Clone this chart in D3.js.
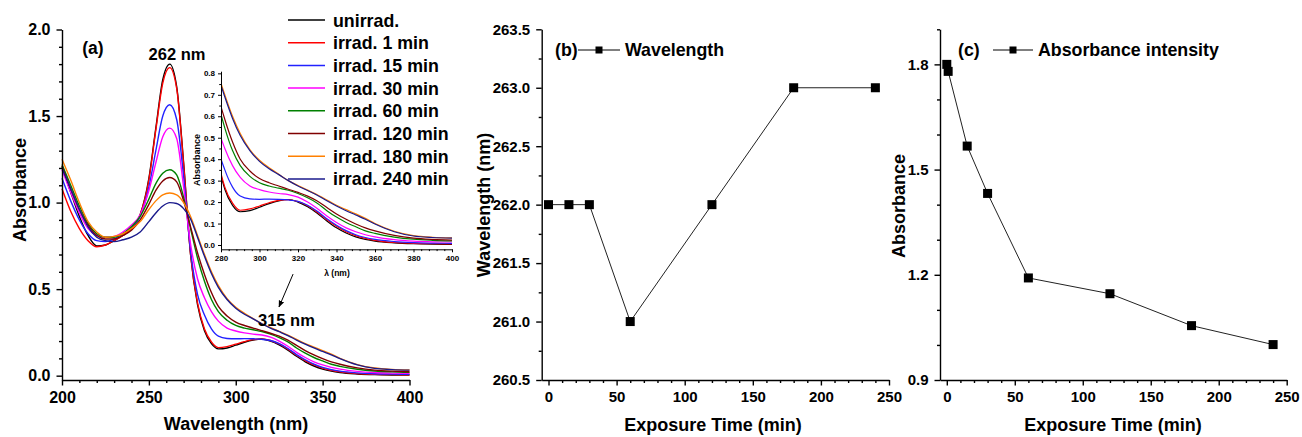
<!DOCTYPE html>
<html>
<head>
<meta charset="utf-8">
<script src="https://cdn.jsdelivr.net/npm/d3@7"></script>
<style>
  body { margin: 0; background: #fff; }
  svg text { font-family: "Liberation Sans", Arial, sans-serif; font-weight: bold; fill: #000; }
</style>
</head>
<body>
<svg id="chart" width="1302" height="437"></svg>
<script>
// ---- data ----
var wavelengths = [200,205,210,215,220,225,230,235,240,245,250,254,258,262,266,270,274,278,282,286,290,295,300,305,310,315,320,325,330,335,340,345,350,355,360,370,380,390,400]

var unirrad  = [1.21,1.06,0.92,0.81,0.75,0.755,0.78,0.81,0.85,0.93,1.14,1.43,1.71,1.80,1.67,1.23,0.70,0.41,0.26,0.185,0.155,0.16,0.176,0.193,0.206,0.212,0.200,0.178,0.148,0.112,0.080,0.056,0.038,0.026,0.018,0.010,0.006,0.004,0.003]
var irrad1   = [1.08,0.95,0.85,0.78,0.745,0.755,0.78,0.81,0.85,0.93,1.13,1.42,1.69,1.78,1.66,1.22,0.70,0.42,0.27,0.195,0.162,0.168,0.182,0.197,0.208,0.211,0.203,0.183,0.153,0.118,0.087,0.062,0.044,0.031,0.022,0.012,0.008,0.006,0.005]
var irrad15  = [1.14,1.01,0.90,0.82,0.78,0.775,0.79,0.82,0.86,0.92,1.09,1.30,1.50,1.565,1.48,1.15,0.72,0.47,0.35,0.27,0.228,0.215,0.213,0.214,0.213,0.210,0.203,0.185,0.157,0.122,0.092,0.067,0.048,0.035,0.026,0.016,0.011,0.009,0.008]
var irrad30  = [1.19,1.06,0.94,0.85,0.81,0.80,0.805,0.83,0.87,0.93,1.07,1.23,1.38,1.43,1.37,1.09,0.76,0.56,0.45,0.37,0.315,0.275,0.258,0.247,0.240,0.235,0.223,0.200,0.170,0.135,0.105,0.080,0.062,0.048,0.038,0.025,0.018,0.015,0.014]
var irrad60  = [1.22,1.10,0.98,0.88,0.82,0.80,0.80,0.82,0.86,0.92,1.02,1.11,1.17,1.19,1.16,1.03,0.85,0.68,0.545,0.44,0.37,0.32,0.29,0.275,0.265,0.255,0.240,0.220,0.195,0.160,0.130,0.105,0.085,0.066,0.054,0.037,0.027,0.022,0.019]
var irrad120 = [1.21,1.08,0.96,0.87,0.81,0.79,0.79,0.81,0.84,0.90,0.99,1.07,1.125,1.145,1.12,1.01,0.86,0.71,0.585,0.48,0.40,0.345,0.31,0.29,0.275,0.26,0.245,0.228,0.205,0.175,0.145,0.120,0.098,0.080,0.066,0.045,0.032,0.026,0.023]
var irrad180 = [1.25,1.13,1.00,0.89,0.83,0.80,0.805,0.82,0.85,0.89,0.96,1.01,1.045,1.055,1.045,1.00,0.92,0.81,0.70,0.60,0.52,0.445,0.395,0.36,0.33,0.30,0.277,0.256,0.234,0.210,0.185,0.165,0.145,0.124,0.100,0.064,0.044,0.036,0.033]
var irrad240 = [1.20,1.08,0.96,0.86,0.80,0.78,0.775,0.785,0.80,0.83,0.89,0.94,0.98,1.00,0.995,0.965,0.905,0.80,0.69,0.59,0.51,0.44,0.39,0.355,0.328,0.30,0.275,0.254,0.232,0.206,0.182,0.160,0.140,0.120,0.098,0.062,0.042,0.035,0.032]

var seriesNames  = ['unirrad.', 'irrad. 1 min', 'irrad. 15 min', 'irrad. 30 min', 'irrad. 60 min', 'irrad. 120 min', 'irrad. 180 min', 'irrad. 240 min']
var seriesValues = [unirrad, irrad1, irrad15, irrad30, irrad60, irrad120, irrad180, irrad240]
var seriesColors = ['#000000', '#ff0000', '#2222ff', '#ff00ff', '#008000', '#800000', '#ff8000', '#1a1a8c']

var exposureTimes = [0, 15, 30, 60, 120, 180, 240]
var peakWavelength = [262, 262, 262, 261, 262, 263, 263]

var absTimes = [0, 1, 15, 30, 60, 120, 180, 240]
var peakAbsorbance = [1.80, 1.78, 1.567, 1.432, 1.191, 1.146, 1.055, 1.001]

// ---- helpers ----
var svg = d3.select('#chart')

function between(start, stop, step, skip) {
    var out = []
    for (var v = start; v <= stop + 1e-9; v += step) {
        var r = Math.round(v * 1000) / 1000
        if (!skip.some(s => Math.abs(s - r) < 1e-6)) out.push(r)
    }
    return out
}

function addAxis(side, scale, pos, majors, minors, fmt, fs, big, small, pad, sw) {
    var mk = side === 'bottom' ? d3.axisBottom : d3.axisLeft
    var tr = side === 'bottom' ? 'translate(0,' + pos + ')' : 'translate(' + pos + ',0)'
    var m = svg.append('g').attr('transform', tr)
        .call(mk(scale).tickValues(minors).tickSize(small).tickSizeOuter(0).tickFormat(''))
    m.select('.domain').remove()
    m.selectAll('line').attr('stroke', '#000').attr('stroke-width', sw)
    var g = svg.append('g').attr('transform', tr)
        .call(mk(scale).tickValues(majors).tickSize(big).tickSizeOuter(0).tickPadding(pad).tickFormat(fmt))
    g.select('.domain').attr('stroke', '#000').attr('stroke-width', sw)
    g.selectAll('line').attr('stroke', '#000').attr('stroke-width', sw)
    g.selectAll('text').attr('font-size', fs).attr('font-weight', 'bold')
        .attr('font-family', '"Liberation Sans", Arial, sans-serif').attr('fill', '#000')
    return g
}

function label(x, y, txt, fs, anchor, rotate) {
    var t = svg.append('text').attr('font-size', fs).attr('text-anchor', anchor || 'start').text(txt)
    if (rotate) {
        t.attr('transform', 'translate(' + x + ',' + y + ') rotate(-90)').attr('dy', '0.35em')
    } else {
        t.attr('x', x).attr('y', y)
    }
    return t
}

svg.append('rect').attr('width', 1302).attr('height', 437).attr('fill', '#fff')

// ================= panel (a) =================
var xa = d3.scaleLinear().domain([200, 400]).range([62, 409.5])
var ya = d3.scaleLinear().domain([-0.025, 2.0]).range([380, 29.5])

var line = d3.line().curve(d3.curveMonotoneX)

svg.append('defs').append('clipPath').attr('id', 'insetclip')
    .append('rect').attr('x', 221).attr('y', 60).attr('width', 232).attr('height', 190)

seriesValues.forEach(function(vals, i) {
    svg.append('path')
        .attr('d', line(wavelengths.map((w, k) => [xa(w), ya(vals[k])])))
        .attr('fill', 'none').attr('stroke', seriesColors[i]).attr('stroke-width', 1.4)
})

addAxis('bottom', xa, 380, [200, 250, 300, 350, 400], between(200, 400, 10, [200, 250, 300, 350, 400]), d3.format('d'), 16, 5.5, 3, 6, 1.4)
addAxis('left', ya, 62, [0, 0.5, 1.0, 1.5, 2.0], between(0, 2.0, 0.1, [0, 0.5, 1, 1.5, 2]), d3.format('.1f'), 16, 5.5, 3, 6, 1.4)

label(236, 430, 'Wavelength (nm)', 18, 'middle')
label(20, 190, 'Absorbance', 18, 'middle', true)
label(xa(217.8), ya(1.86), '(a)', 17.5, 'middle')
label(xa(266.2), ya(1.824), '262 nm', 16.5, 'middle')
label(xa(312.8), ya(0.287), '315 nm', 16.5, 'start')

svg.select('defs').append('marker').attr('id', 'arrow')
    .attr('viewBox', '0 0 10 10').attr('refX', 9).attr('refY', 5)
    .attr('markerWidth', 7).attr('markerHeight', 7).attr('orient', 'auto')
    .append('path').attr('d', 'M0,1 L10,5 L0,9 Z').attr('fill', '#000')
svg.append('line')
    .attr('x1', xa(333)).attr('y1', ya(0.587)).attr('x2', xa(324.9)).attr('y2', ya(0.397))
    .attr('stroke', '#000').attr('stroke-width', 1).attr('marker-end', 'url(#arrow)')

// inset
var xi = d3.scaleLinear().domain([280, 400]).range([221, 452])
var yi = d3.scaleLinear().domain([-0.02, 0.81]).range([249.3, 71.2])

var insetLines = svg.append('g').attr('clip-path', 'url(#insetclip)')
seriesValues.forEach(function(vals, i) {
    insetLines.append('path')
        .attr('d', line(wavelengths.map((w, k) => [xi(w), yi(vals[k])]).filter((p, k) => wavelengths[k] >= 274)))
        .attr('fill', 'none').attr('stroke', seriesColors[i]).attr('stroke-width', 1.2)
})

addAxis('bottom', xi, 249.3, between(280, 400, 20, []), between(280, 400, 4, between(280, 400, 20, [])), d3.format('d'), 8, 3, 1.8, 3, 1)
addAxis('left', yi, 221, between(0, 0.8, 0.1, []), between(0.05, 0.8, 0.1, []), d3.format('.1f'), 8, 3, 1.8, 3, 1)
label(337, 276, 'λ (nm)', 8.5, 'middle')
label(197, 160, 'Absorbance', 9, 'middle', true)

// legend
var legend = svg.append('g')
seriesNames.forEach(function(name, i) {
    var cy = 20 + i * 22.7
    legend.append('line').attr('x1', 288).attr('x2', 325).attr('y1', cy).attr('y2', cy)
        .attr('stroke', seriesColors[i]).attr('stroke-width', 1.5)
    label(333, cy + 6.5, name, 17.8, 'start')
})

// ================= panel (b) =================
var xb = d3.scaleLinear().domain([-5, 250]).range([541.7, 889])
var yb = d3.scaleLinear().domain([260.5, 263.5]).range([380, 29.3])

svg.append('path')
    .attr('d', d3.line()(exposureTimes.map((t, i) => [xb(t), yb(peakWavelength[i])])))
    .attr('fill', 'none').attr('stroke', '#222').attr('stroke-width', 1)
svg.selectAll('.mb').data(exposureTimes).enter().append('rect')
    .attr('x', (d) => xb(d) - 4.5).attr('y', (d, i) => yb(peakWavelength[i]) - 4.5)
    .attr('width', 9).attr('height', 9).attr('fill', '#000')

addAxis('bottom', xb, 380, between(0, 250, 50, []), between(0, 250, 10, between(0, 250, 50, [])), d3.format('d'), 15, 5.5, 3, 6, 1.4)
addAxis('left', yb, 541.7, between(260.5, 263.5, 0.5, []), between(260.75, 263.5, 0.5, []), d3.format('.1f'), 15, 5.5, 3, 6, 1.4)

label(713, 431, 'Exposure Time (min)', 18, 'middle')
label(483.5, 205, 'Wavelength (nm)', 18, 'middle', true)
label(555, 56, '(b)', 17.8, 'start')
svg.append('line').attr('x1', 578).attr('x2', 620).attr('y1', 50).attr('y2', 50).attr('stroke', '#000').attr('stroke-width', 1)
svg.append('rect').attr('x', 595.5).attr('y', 46.5).attr('width', 7).attr('height', 7).attr('fill', '#000')
label(625, 56, 'Wavelength', 17.8, 'start')

// ================= panel (c) =================
var xc = d3.scaleLinear().domain([-5, 250]).range([940, 1286.7])
var yc = d3.scaleLinear().domain([0.9, 1.9]).range([380, 29.3])

svg.append('path')
    .attr('d', d3.line()(absTimes.map((t, i) => [xc(t), yc(peakAbsorbance[i])])))
    .attr('fill', 'none').attr('stroke', '#222').attr('stroke-width', 1)
svg.selectAll('.mc').data(absTimes).enter().append('rect')
    .attr('x', (d) => xc(d) - 4.5).attr('y', (d, i) => yc(peakAbsorbance[i]) - 4.5)
    .attr('width', 9).attr('height', 9).attr('fill', '#000')

addAxis('bottom', xc, 380, between(0, 250, 50, []), between(0, 250, 10, between(0, 250, 50, [])), d3.format('d'), 15, 5.5, 3, 6, 1.4)
addAxis('left', yc, 940, [0.9, 1.2, 1.5, 1.8], [1.0, 1.1, 1.3, 1.4, 1.6, 1.7, 1.9], d3.format('.1f'), 15, 5.5, 3, 6, 1.4)

label(1113, 431, 'Exposure Time (min)', 18, 'middle')
label(898.5, 206, 'Absorbance', 18, 'middle', true)
label(958, 56, '(c)', 17.8, 'start')
svg.append('line').attr('x1', 993).attr('x2', 1033).attr('y1', 50).attr('y2', 50).attr('stroke', '#000').attr('stroke-width', 1)
svg.append('rect').attr('x', 1009.5).attr('y', 46.5).attr('width', 7).attr('height', 7).attr('fill', '#000')
label(1038, 56, 'Absorbance intensity', 17.8, 'start')
</script>
</body>
</html>
